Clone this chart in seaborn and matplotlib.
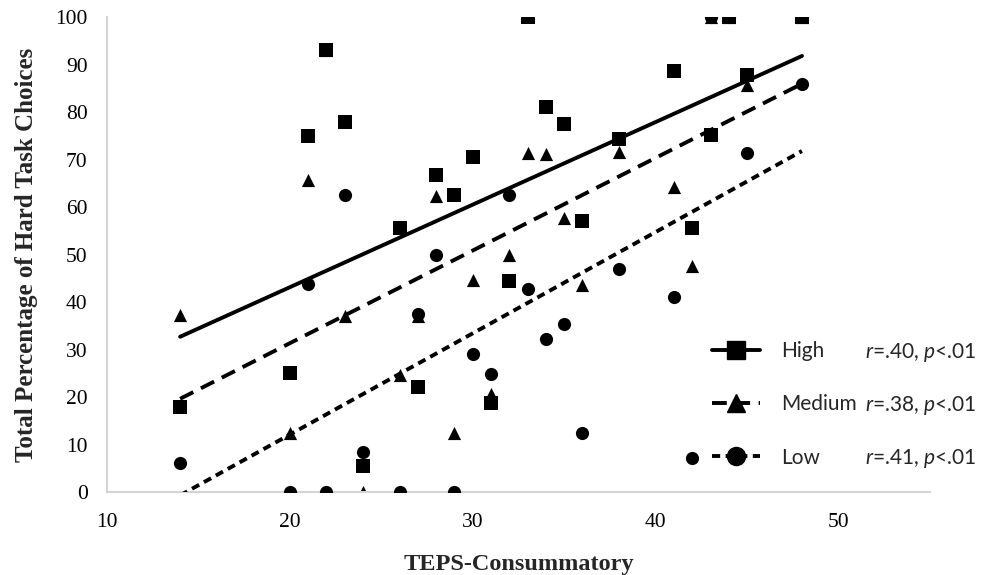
import matplotlib
matplotlib.use("Agg")
import matplotlib.pyplot as plt
from matplotlib.lines import Line2D
import seaborn as sns
import numpy as np

# TEPS-Consummatory score of each participant
teps = [14, 20, 21, 22, 23, 24, 26, 27, 28, 29, 30, 31, 32, 33, 34, 35, 36, 38, 41, 42, 43, 44, 45, 48]

# percentage of hard task choices by reward probability
high = [18, 25, 75, 93, 77.8, 5.5, 55.6, 22.2, 66.7, 62.5, 70.5, 18.7, 44.5, 100,
        81, 77.5, 57, 74.4, 88.6, 55.6, 75.2, 100, 87.8, 100]
medium = [37.3, 12.4, 65.7, 93, 37.1, 0, 24.6, 37, 62.3, 12.4, 44.6, 20.6, 50, 71.4,
          71.2, 57.6, 43.6, 71.6, 64.3, 47.5, 100, 100, 85.7, 100]
low = [6.2, 0, 43.8, 0, 62.5, 8.4, 0, 37.5, 50, 0, 29.1, 24.8, 62.5, 42.7,
       32.3, 35.4, 12.4, 46.9, 41.1, 7.1, 100, 100, 71.4, 85.9]

group_names = ["High", "Medium", "Low"]
stats_text = [r"$r$=.40, $p$<.01", r"$r$=.38, $p$<.01", r"$r$=.41, $p$<.01"]

sns.set_style("white")
plt.rcParams["font.family"] = ["Liberation Serif", "DejaVu Serif"]
plt.rcParams["mathtext.fontset"] = "custom"
plt.rcParams["mathtext.it"] = "Lato:italic"
plt.rcParams["mathtext.rm"] = "Lato"

fig = plt.figure(figsize=(9.94, 5.75), dpi=100)
ax = fig.add_axes([0.1076, 0.1443, 0.8280, 0.8261])

series = [high, medium, low]
markers = ["s", "^", "o"]
styles = ["-", (0, (3.8, 2.2)), (0, (2.1, 1.4))]
zorders = [4, 2, 3]

for vals, mk, ls, z in zip(series, markers, styles, zorders):
    sns.regplot(x=np.array(teps), y=np.array(vals), ax=ax, ci=None, marker=mk,
                color="black",
                scatter_kws={"s": 90, "linewidths": 0, "alpha": 1, "zorder": z},
                line_kws={"lw": 2.8, "ls": ls, "zorder": 6})

ax.set_xlim(10, 55)
ax.set_ylim(0, 100)
ax.set_xticks(range(10, 51, 10))
ax.set_yticks(range(0, 101, 10))
ax.tick_params(axis="both", length=0, labelsize=15.5, colors="black")
ax.tick_params(axis="x", pad=15)
ax.tick_params(axis="y", pad=14)

for side in ["top", "right"]:
    ax.spines[side].set_visible(False)
for side in ["left", "bottom"]:
    ax.spines[side].set_color("#d4d4d4")
    ax.spines[side].set_linewidth(1.5)

ax.set_xlabel("TEPS-Consummatory", fontsize=17.5, fontweight="bold", labelpad=16)
ax.set_ylabel("Total Percentage of Hard Task Choices", fontsize=18, fontweight="bold", labelpad=12)

# legend
handles = [Line2D([], [], color="black", lw=2.8, ls=ls, marker=mk, markersize=13)
           for mk, ls in zip(markers, styles)]
leg = ax.legend(handles, group_names, loc="upper left", bbox_to_anchor=(0.735, 0.318),
                frameon=False, handlelength=2.3, handletextpad=1.0, labelspacing=1.6,
                borderpad=0, borderaxespad=0,
                prop={"family": "Lato", "size": 15})

for txt, yy in zip(stats_text, [0.2947, 0.1832, 0.0716]):
    ax.text(0.921, yy, txt, transform=ax.transAxes, ha="left", va="center",
            fontsize=15, family="Lato", clip_on=False)

fig.savefig("out.png")
